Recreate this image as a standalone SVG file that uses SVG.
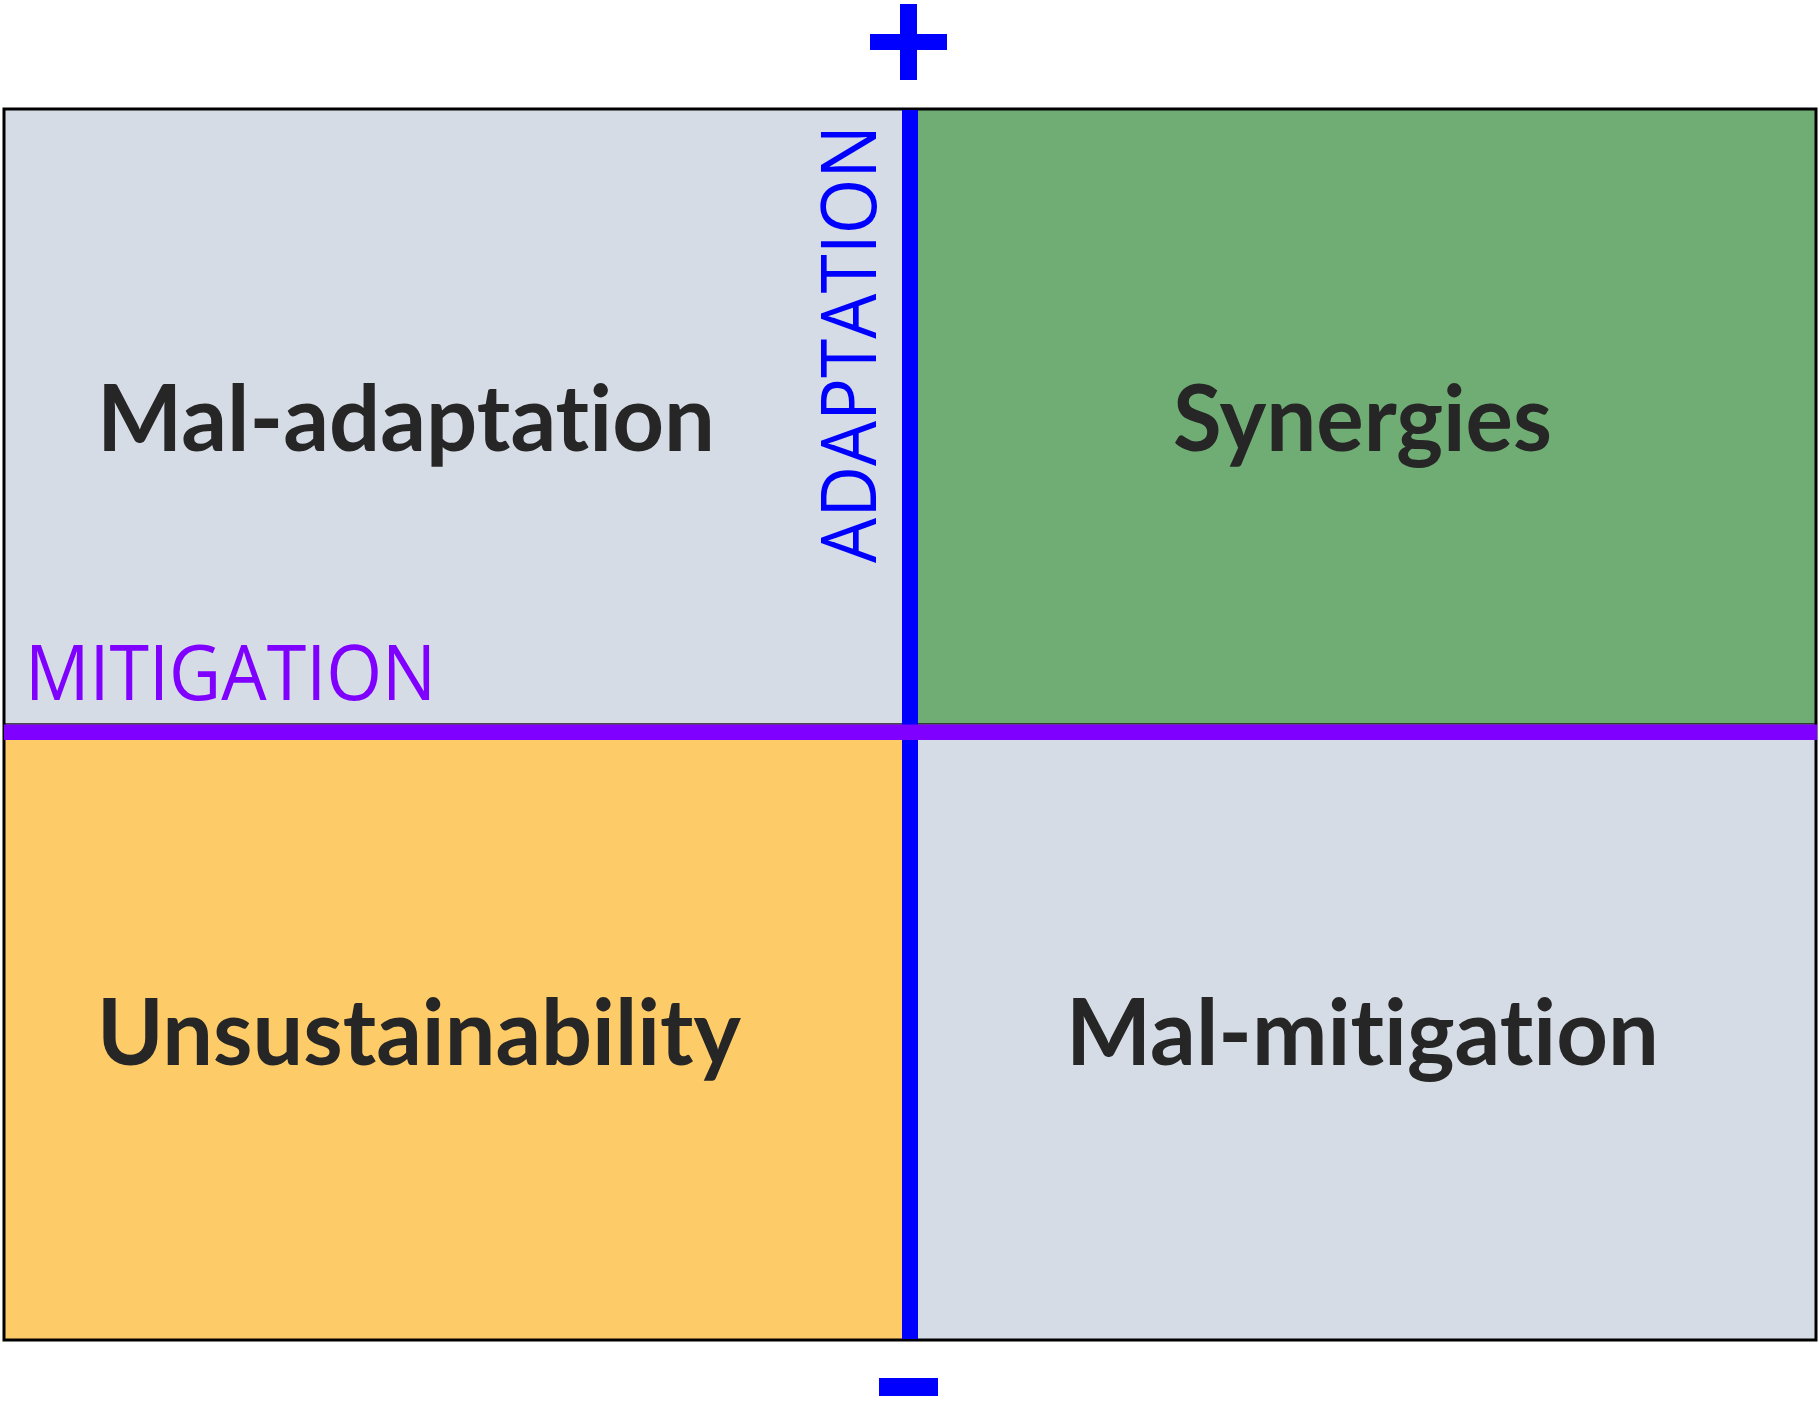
<svg xmlns="http://www.w3.org/2000/svg" width="1819" height="1404" viewBox="0 0 1819 1404">
  <style>
    .quad { stroke: #1a1a1a; stroke-width: 1.5; }
    .grey { fill: #D6DCE5; }
    .green { fill: #70AD75; }
    .orange { fill: #FECB69; }
    .label { font-family: Lato, "Open Sans", "Liberation Sans", sans-serif; font-weight: 700; font-size: 92px; fill: #262626; font-variant-ligatures: none; font-feature-settings: "liga" 0, "clig" 0; }
    .axis { font-family: "Open Sans", "Noto Sans", "Liberation Sans", sans-serif; font-weight: 400; font-size: 76px; }
    .blue { fill: #0000FF; }
    .purple { fill: #8000FF; }
  </style>
  <rect x="0" y="0" width="1819" height="1404" fill="#ffffff"/>
  <g id="q-mal-adaptation">
    <rect class="quad grey" x="4" y="109" width="906" height="615"/>
    <text class="label" x="97" y="451" textLength="618" lengthAdjust="spacingAndGlyphs">Mal-adaptation</text>
  </g>
  <g id="q-synergies">
    <rect class="quad green" x="910" y="109" width="906" height="615"/>
    <text class="label" x="1173" y="451" textLength="379" lengthAdjust="spacingAndGlyphs">Synergies</text>
  </g>
  <g id="q-unsustainability">
    <rect class="quad orange" x="4" y="732" width="906" height="608"/>
    <text class="label" x="97" y="1065" textLength="644" lengthAdjust="spacingAndGlyphs">Unsustainability</text>
  </g>
  <g id="q-mal-mitigation">
    <rect class="quad grey" x="910" y="732" width="906" height="608"/>
    <text class="label" x="1066" y="1065" textLength="593" lengthAdjust="spacingAndGlyphs">Mal-mitigation</text>
  </g>
  <g id="connectors">
    <rect id="outer-border" x="4" y="109" width="1812" height="1231" fill="none" stroke="#000000" stroke-width="3"/>
    <rect id="adaptation-axis" class="blue" x="902" y="110" width="16" height="1229"/>
    <rect id="mitigation-axis" class="purple" x="4" y="724.5" width="1813" height="15.5"/>
  </g>
  <g id="axis-labels">
    <text class="axis" x="25" y="700" fill="#8000FF" textLength="411" lengthAdjust="spacingAndGlyphs">MITIGATION</text>
    <text class="axis" transform="translate(876,563) rotate(-90)" x="0" y="0" fill="#0000FF" textLength="438" lengthAdjust="spacingAndGlyphs">ADAPTATION</text>
  </g>
  <g id="plus">
    <rect class="blue" x="900" y="4" width="17" height="76"/>
    <rect class="blue" x="870" y="34" width="77" height="16"/>
  </g>
  <g id="minus">
    <rect class="blue" x="879" y="1378" width="59" height="18"/>
  </g>
</svg>
